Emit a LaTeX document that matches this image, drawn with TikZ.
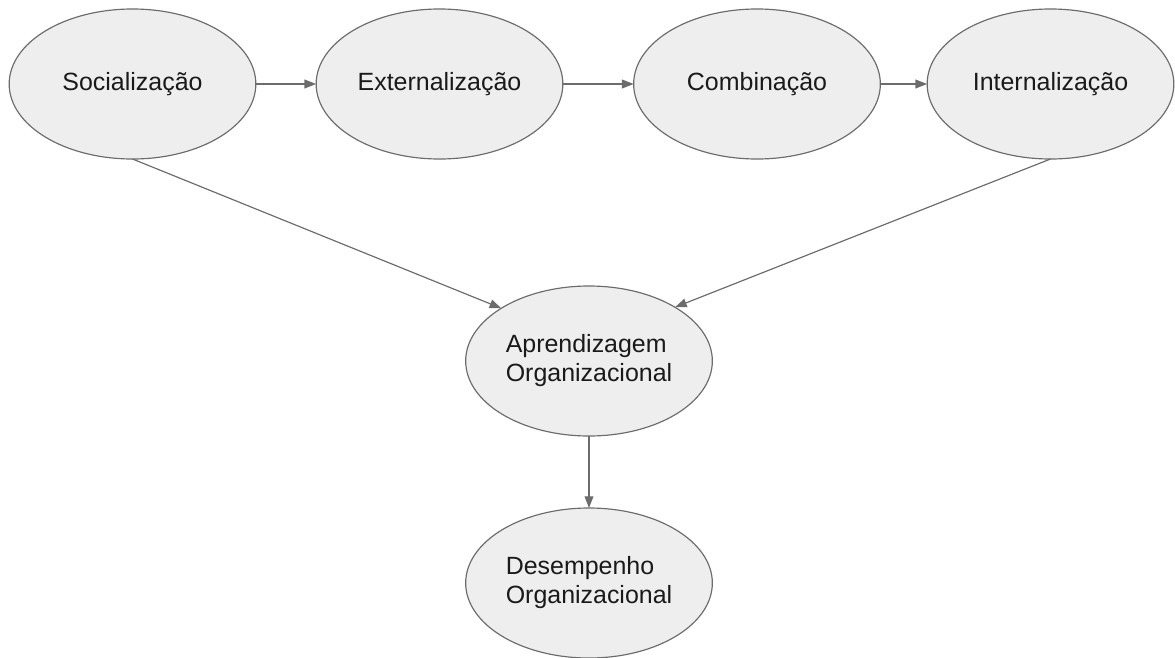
\documentclass[tikz,border=0pt]{standalone}
\usepackage{fontspec}
\setmainfont{Liberation Sans}
\usetikzlibrary{shapes.geometric, arrows.meta}
\definecolor{ovalfill}{HTML}{EEEEEE}
\definecolor{ovalline}{HTML}{6C6C6C}
\definecolor{txtcol}{HTML}{1A1A1A}

\begin{document}
\begin{tikzpicture}[
    stage/.style={ellipse, draw=ovalline, line width=1pt, fill=ovalfill, minimum width=7.4cm, minimum height=4.5cm, inner sep=0pt, outer sep=0pt, text=txtcol, font=\fontsize{21.3}{24.7}\selectfont, align=left},
    flow/.style={-{Triangle[length=10pt, width=7.5pt]}, line width=1pt, draw=ovalline, fill=ovalline}
]
    \useasboundingbox (0,0) rectangle (35.25,-19.71);

    % Knowledge stages
    \node[stage] (soc) at (3.975,-2.52) {Socialização};
    \node[stage] (ext) at (13.185,-2.52) {Externalização};
    \node[stage] (comb) at (22.71,-2.52) {Combinação};
    \node[stage] (int) at (31.515,-2.52) {Internalização};

    % Outcomes
    \node[stage] (apr) at (17.67,-10.83) {Aprendizagem\\Organizacional};
    \node[stage] (des) at (17.67,-17.49) {Desempenho\\Organizacional};

    % Spiral
    \draw[flow] (soc.east) -- (ext.west);
    \draw[flow] (ext.east) -- (comb.west);
    \draw[flow] (comb.east) -- (int.west);

    % Into learning
    \draw[flow] (soc.south) -- (apr.149);
    \draw[flow] (int.south) -- (apr.32);
    \draw[flow] (apr.south) -- (des.north);

\end{tikzpicture}
\end{document}
